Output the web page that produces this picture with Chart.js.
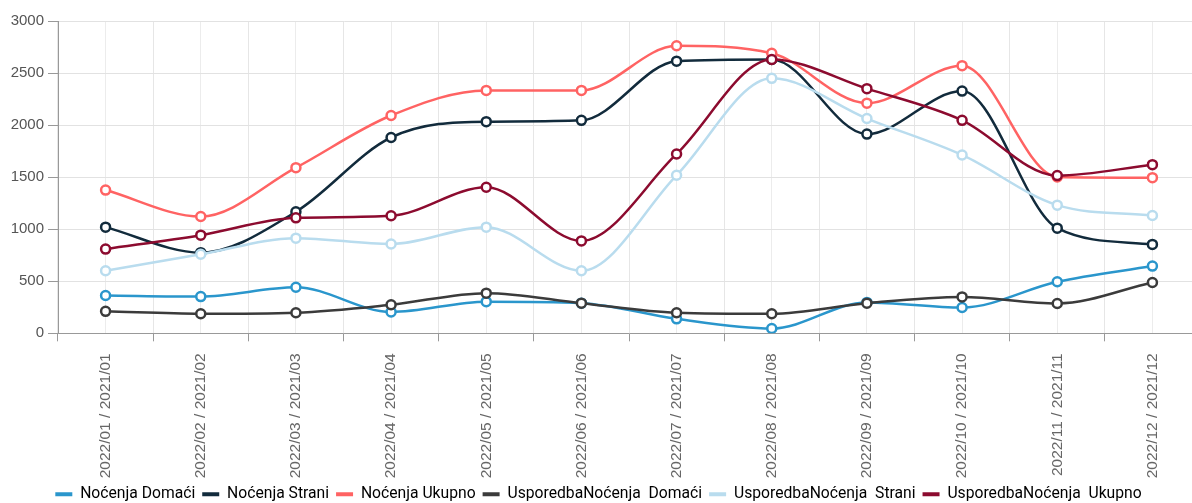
<!DOCTYPE html>
<html>
<head>
<meta charset="utf-8">
<script src="https://cdn.jsdelivr.net/npm/chart.js@4/dist/chart.umd.min.js"></script>
<style>
  body { margin: 0; overflow: hidden; background: #fff; }
</style>
</head>
<body>
<canvas id="nocenja" width="1200" height="503"></canvas>
<script>
// data
const months = ['2022/01 / 2021/01', '2022/02 / 2021/02', '2022/03 / 2021/03', '2022/04 / 2021/04',
  '2022/05 / 2021/05', '2022/06 / 2021/06', '2022/07 / 2021/07', '2022/08 / 2021/08',
  '2022/09 / 2021/09', '2022/10 / 2021/10', '2022/11 / 2021/11', '2022/12 / 2021/12'];

const domaci = [363, 353, 442, 205, 304, 290, 139, 46, 297, 248, 495, 646];
const strani = [1020, 775, 1168, 1881, 2033, 2046, 2614, 2630, 1914, 2327, 1010, 854];
const ukupno = [1376, 1122, 1591, 2092, 2333, 2333, 2762, 2690, 2211, 2571, 1502, 1495];
const uspDomaci = [211, 188, 198, 274, 386, 290, 198, 188, 290, 350, 287, 488];
const uspStrani = [601, 759, 914, 858, 1020, 601, 1518, 2449, 2063, 1713, 1231, 1132];
const uspUkupno = [809, 943, 1109, 1129, 1403, 888, 1723, 2630, 2350, 2046, 1515, 1620];

const yTicks = [0, 500, 1000, 1500, 2000, 2500, 3000];

Chart.defaults.font.family = "'Liberation Sans', Arial, sans-serif";
Chart.defaults.font.size = 15;
Chart.defaults.color = '#666';

function line(label, data, color, i) {
  return {
    label: label,
    data: data,
    borderColor: color,
    backgroundColor: color,
    borderWidth: 2.5,
    pointRadius: 4.5,
    pointHoverRadius: 5,
    pointBorderWidth: 2.5,
    pointBackgroundColor: '#fff',
    pointBorderColor: color,
    cubicInterpolationMode: 'monotone',
    fill: false,
    order: 10 - i   // later series drawn on top
  };
}

const ctx = document.getElementById('nocenja').getContext('2d');
const chart = new Chart(ctx, {
  type: 'line',
  data: {
    labels: months,
    datasets: [
      line('Noćenja Domaći', domaci, '#2a96cc', 0),
      line('Noćenja Strani', strani, '#122b3c', 1),
      line('Noćenja Ukupno', ukupno, '#ff6363', 2),
      line('UsporedbaNoćenja  Domaći', uspDomaci, '#3b3b3b', 3),
      line('UsporedbaNoćenja  Strani', uspStrani, '#b9dcee', 4),
      line('UsporedbaNoćenja  Ukupno', uspUkupno, '#8c0b2f', 5)
    ]
  },
  options: {
    responsive: false,
    animation: false,
    layout: { autoPadding: false, padding: { top: 21, left: -3, right: 0, bottom: -9 } },
    plugins: {
      legend: {
        position: 'bottom',
        labels: {
          boxWidth: 17,
          boxHeight: 4,
          padding: 7,
          color: '#555',
          font: { family: "Roboto, 'Liberation Sans', sans-serif", size: 15.7 },
          sort: (a, b) => a.datasetIndex - b.datasetIndex,
          generateLabels: (c) => c.data.datasets.map((ds, i) => ({
            text: ds.label,
            fillStyle: ds.borderColor,
            strokeStyle: ds.borderColor,
            lineWidth: 0,
            datasetIndex: i,
            hidden: !c.isDatasetVisible(i)
          }))
        }
      },
      tooltip: { enabled: false }
    },
    scales: {
      x: {
        offset: true,
        grid: { offset: true, color: '#e6e6e6', tickLength: 8, tickColor: '#999' },
        border: { color: '#999' },
        ticks: { autoSkip: false, maxRotation: 90, minRotation: 90, color: '#666', padding: 12, font: { size: 15.5 } },
        afterFit: (s) => { s.paddingRight = 0; s.paddingLeft = 0; s.height -= 11; }
      },
      // second category axis only for the grid lines through the points
      x2: {
        type: 'category',
        position: 'top',
        offset: true,
        labels: months,
        grid: { offset: false, color: '#ececec', drawTicks: false },
        border: { display: false },
        ticks: { display: false },
        afterFit: (s) => { s.paddingRight = 0; s.paddingLeft = 0; }
      },
      y: {
        min: 0,
        max: 3000,
        afterBuildTicks: (s) => { s.ticks = yTicks.map(v => ({ value: v })); },
        afterFit: (s) => { s.width = 61; },
        grid: { color: '#e2e2e2', tickLength: 10, tickColor: '#999' },
        border: { color: '#999' },
        ticks: { color: '#555', padding: 4, callback: (v) => String(v) }
      }
    }
  }
});
</script>
</body>
</html>
